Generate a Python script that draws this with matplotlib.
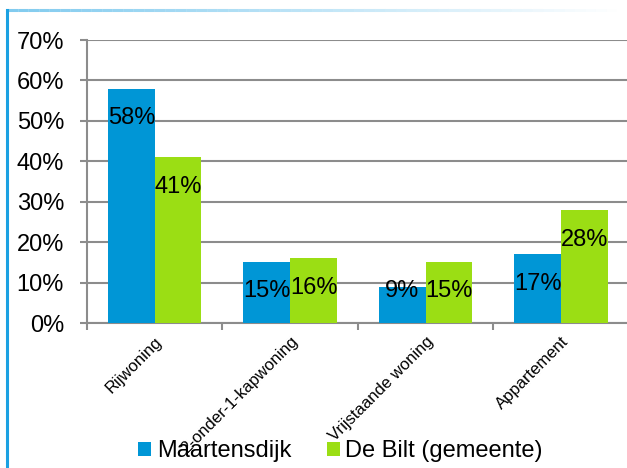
import numpy as np
import matplotlib.pyplot as plt
from matplotlib.lines import Line2D
from matplotlib.collections import LineCollection
from matplotlib.ticker import FuncFormatter, MultipleLocator

plt.rcParams['font.family'] = ['Liberation Sans', 'DejaVu Sans']

categories = ['Rijwoning', '2-onder-1-kapwoning', 'Vrijstaande woning', 'Appartement']
maartensdijk = [58, 15, 9, 17]
de_bilt = [41, 16, 15, 28]
series_names = ['Maartensdijk', 'De Bilt (gemeente)']

blue = '#0096D6'
green = '#9BDE14'
grid_grey = '#8C8C8C'

fig = plt.figure(figsize=(6.27, 4.68), dpi=100)
ax = fig.add_axes([0.1388, 0.3098, 0.864, 0.6047])

x = np.arange(len(categories))
w = 0.345
b1 = ax.bar(x - w / 2, maartensdijk, w, color=blue, label=series_names[0], zorder=3)
b2 = ax.bar(x + w / 2, de_bilt, w, color=green, label=series_names[1], zorder=3)

# labels sit inside the bar end, but not lower than near the base
for bars, vals in ((b1, maartensdijk), (b2, de_bilt)):
    for r, v in zip(bars, vals):
        ax.text(r.get_x() + r.get_width() / 2, max(v - 7.4, 8.0), f'{v}%',
                ha='center', va='center', fontsize=17, color='black', zorder=4)

ax.set_ylim(0, 70)
ax.set_xlim(-0.5, len(categories) - 0.5)
ax.yaxis.set_major_locator(MultipleLocator(10))
ax.yaxis.set_major_formatter(FuncFormatter(lambda v, p: f'{int(v)}%'))
ax.yaxis.grid(True, color=grid_grey, linewidth=1.5, zorder=0)
ax.set_axisbelow(True)

for s in ['top', 'right']:
    ax.spines[s].set_visible(False)
for s in ['left', 'bottom']:
    ax.spines[s].set_color(grid_grey)
    ax.spines[s].set_linewidth(1.5)

ax.tick_params(axis='y', length=5, width=1.5, color=grid_grey, labelsize=17, pad=11.5)
ax.set_xticks(np.arange(len(categories) + 1) - 0.5)
ax.set_xticklabels([])
ax.tick_params(axis='x', length=5, width=1.5, color=grid_grey)
ax.set_xticks(x, minor=True)
ax.set_xticklabels(categories, minor=True, rotation=45, ha='right',
                   rotation_mode='anchor', fontsize=12)
ax.tick_params(axis='x', which='minor', length=0, pad=8)

leg = fig.legend(handles=[b1, b2], loc='center', bbox_to_anchor=(0.543, 0.036),
                 ncol=2, frameon=False, fontsize=17, handlelength=0.55,
                 handleheight=0.55, handletextpad=0.25, columnspacing=1.5)

# frame: solid left edge, top edge fading to white
fig.add_artist(Line2D([0.0115, 0.0115], [0, 0.978], transform=fig.transFigure,
                      color='#1BA1E2', linewidth=2.2))
xs = np.linspace(0.0115, 1.0, 60)
segs = [[(xs[i], 0.978), (xs[i + 1], 0.978)] for i in range(len(xs) - 1)]
alphas = np.linspace(0.55, 0.0, len(segs))
cols = [(0.106, 0.631, 0.886, a) for a in alphas]
fig.add_artist(LineCollection(segs, colors=cols, linewidths=2.2, transform=fig.transFigure))

fig.savefig('out.png', dpi=100)
